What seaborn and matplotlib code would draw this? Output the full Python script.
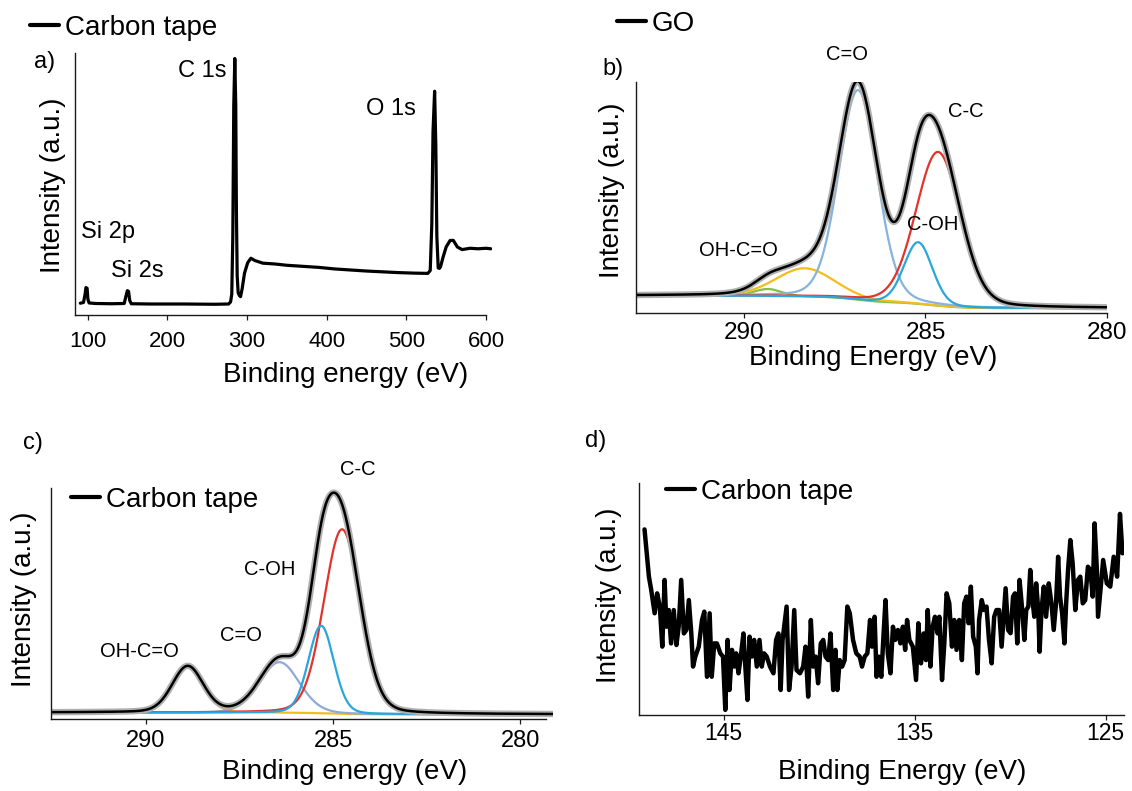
import numpy as np
import pandas as pd
import matplotlib
matplotlib.use("Agg")
import matplotlib.pyplot as plt
from matplotlib.lines import Line2D
import seaborn as sns

W, H = 1132, 791

# ---------------- (a) survey scan of the carbon tape ----------------
survey_ev = [91, 95, 97, 98, 99.5, 100.5, 102, 110, 130, 146,
             148.5, 150, 151.5, 153, 155, 180, 220, 260, 277, 279.5,
             281, 282.3, 283.5, 284.8, 286.0, 286.8, 287.8, 289, 290.5, 292,
             294, 297, 301, 305, 310, 320, 335, 350, 370, 390,
             410, 430, 450, 470, 490, 510, 527, 530, 532, 533.5,
             535.5, 537, 538.3, 540, 541.5, 543, 546, 550, 555, 559,
             564, 570, 580, 590, 600, 606]
survey_int = [4.5, 4.8, 8.0, 10.5, 10.2, 6.0, 4.6, 4.4, 4.3, 4.4,
              7.5, 9.3, 9.0, 5.5, 4.3, 4.2, 4.2, 4.1, 4.2, 5.0,
              8.0, 30, 80, 98, 80, 40, 15, 8.5, 7.5, 7.0,
              10, 16, 20, 21.7, 20.8, 19.8, 19.5, 19.0, 18.6, 18.2,
              17.6, 17.2, 16.8, 16.5, 16.2, 16.0, 15.9, 17, 35, 70,
              85.5, 65, 30, 18, 17.8, 18.5, 22, 26, 28.5, 28.5,
              26, 25, 25.5, 25.3, 25.5, 25.3]
survey_ticks = [100, 200, 300, 400, 500, 600]

# ---------------- (b) GO, C 1s peak fit ----------------
go_bands = ["C-C", "C-OH", "C=O", "OH-C=O", "shake-up"]
go_centre = [284.65, 285.20, 286.86, 288.33, 289.35]
go_height = [66.4, 26.6, 90.5, 12.2, 3.0]
go_fwhm = [1.45, 0.92, 1.25, 1.90, 0.90]
go_bg_ends = [2.2, 7.6]          # background at the low / high energy end
go_ticks = [290, 285, 280]

# ---------------- (c) carbon tape, C 1s peak fit ----------------
tape_bands = ["C-C", "C-OH", "C=O", "OH-C=O"]
tape_centre = [284.76, 285.32, 286.43, 288.88]
tape_height = [80.0, 38.0, 22.0, 19.8]
tape_fwhm = [1.15, 0.80, 1.25, 0.97]
tape_bg_ends = [2.0, 2.8]
tape_ticks = [290, 285, 280]

# ---------------- (d) carbon tape, Si 2p region ----------------
si_ev = [149.15, 148.92, 148.80, 148.62, 148.49, 148.35, 148.22, 148.10, 148.00, 147.88,
         147.76, 147.62, 147.48, 147.36, 147.23, 147.09, 146.96, 146.83, 146.70, 146.61,
         146.49, 146.31, 146.14, 146.02, 145.88, 145.74, 145.63, 145.50, 145.36, 145.18,
         145.04, 144.92, 144.80, 144.70, 144.57, 144.45, 144.35, 144.23, 144.11, 143.97,
         143.86, 143.76, 143.65, 143.53, 143.41, 143.27, 143.13, 143.01, 142.89, 142.75,
         142.58, 142.40, 142.26, 142.14, 142.02, 141.92,
         141.71, 141.58, 141.45, 141.31, 141.19, 141.01, 140.84, 140.72, 140.58, 140.44,
         140.32, 140.19, 140.06, 139.92, 139.79, 139.67, 139.53, 139.41, 139.27, 139.15,
         139.05, 138.93, 138.80, 138.67, 138.53, 138.40, 138.23, 138.06, 137.88, 137.76,
         137.62, 137.48, 137.34, 137.24, 137.10, 137.00, 136.89, 136.75, 136.63, 136.53,
         136.41, 136.27, 136.14, 136.02, 135.88, 135.75, 135.62, 135.50, 135.40, 135.28,
         135.10, 134.93, 134.81, 134.67, 134.53, 134.41, 134.32, 134.18, 134.06, 133.94,
         133.80,
         133.71, 133.57, 133.45, 133.33, 133.19, 133.05, 132.93, 132.81, 132.67, 132.53,
         132.41, 132.29, 132.18, 132.06, 131.94, 131.80, 131.71, 131.63, 131.49, 131.37,
         131.24, 131.11, 130.97, 130.84, 130.72, 130.58, 130.45, 130.32, 130.24, 130.11,
         129.98, 129.85, 129.75, 129.63, 129.51, 129.37, 129.26, 129.16, 129.05, 128.95,
         128.85, 128.74, 128.64, 128.53, 128.46, 128.36, 128.24, 128.12, 127.98, 127.84,
         127.72, 127.60, 127.49, 127.39, 127.28, 127.16, 127.07, 126.97, 126.85, 126.73,
         126.59, 126.45, 126.33, 126.20, 126.07, 125.93, 125.80, 125.68, 125.58, 125.46,
         125.40,
         125.13, 124.94, 124.76, 124.58, 124.40, 124.25, 124.12]
si_int = [80.1, 59.7, 54.0, 43.9, 52.5, 46.8, 29.5, 58.3, 38.1, 45.3,
          30.9, 45.3, 30.2, 38.1, 58.3, 35.2, 36.7, 49.6, 35.2, 20.9,
          25.2, 29.5, 41.0, 44.6, 16.5, 43.9, 16.5, 30.9, 30.9, 26.6,
          25.2, 2.2, 32.4, 10.8, 28.1, 20.9, 26.6, 18.0, 25.2, 35.2,
          19.4, 6.5, 33.8, 25.2, 32.4, 20.9, 32.4, 20.9, 26.6, 25.2,
          20.9, 18.0, 32.4, 35.2, 10.8, 32.4,
          46.8, 10.8, 20.9, 45.3, 19.4, 18.0, 20.9, 29.5, 7.9, 41.0,
          20.9, 25.2, 13.7, 30.9, 32.4, 25.2, 23.7, 35.2, 10.8, 28.1,
          10.8, 23.7, 20.9, 23.7, 46.8, 43.9, 32.4, 26.6, 25.2, 20.9,
          25.2, 26.6, 41.0, 29.5, 42.4, 16.5, 25.2, 16.5, 35.2, 49.6,
          26.6, 18.0, 38.1, 32.4, 36.7, 30.9, 38.1, 28.1, 41.0, 32.4,
          29.5, 15.1, 39.6, 22.3, 35.2, 23.7, 45.3, 20.9, 38.1, 42.4,
          35.2,
          42.4, 15.1, 30.9, 52.5, 48.2, 29.5, 41.0, 28.1, 41.0, 23.7,
          48.2, 51.1, 39.6, 55.4, 33.8, 29.5, 18.0, 41.0, 49.6, 45.3,
          46.8, 32.4, 22.3, 42.4, 45.3, 45.3, 29.5, 45.3, 54.7, 36.7,
          35.3, 51.1, 52.5, 30.9, 58.3, 45.3, 32.4, 45.3, 46.8, 62.6,
          51.1, 42.4, 56.8, 45.3, 27.3, 45.3, 55.4, 42.4, 56.8, 48.2,
          36.7, 48.2, 68.3, 51.1, 43.9, 30.9, 48.2, 62.6, 75.5, 65.5,
          45.3, 58.3, 59.7, 48.2, 49.6, 64.0, 62.6, 51.1, 82.7, 62.6,
          42.4,
          66.9, 56.8, 55.4, 68.3, 59.7, 86.8, 69.8]
si_ticks = [145, 135, 125]

# ---------------- helpers ----------------
def band(x, centre, height, fwhm, eta=0.15):
    """Gaussian-Lorentzian line shape used for the C 1s components."""
    d = (x - centre) / fwhm
    return height * ((1 - eta) * np.exp(-4 * np.log(2) * d ** 2) + eta / (1 + 4 * d ** 2))


def shirley(x, signal, ends):
    """Shirley-type background rising with the integrated peak area (x ascending)."""
    area = np.concatenate([[0.0], np.cumsum(0.5 * (signal[1:] + signal[:-1]) * np.diff(x))])
    return ends[0] + (ends[1] - ends[0]) * area / area[-1]


def fit_frame(x, names, centres, heights, widths, bg_ends):
    comps = [band(x, c, h, w) for c, h, w in zip(centres, heights, widths)]
    total = np.sum(comps, axis=0)
    bg = shirley(x, total, bg_ends)
    frames = [pd.DataFrame({"energy": x, "intensity": bg + comp, "band": name})
              for name, comp in zip(names, comps)]
    return pd.concat(frames, ignore_index=True), bg + total


def box(left, top, right, bottom):
    return [left / W, 1 - bottom / H, (right - left) / W, (bottom - top) / H]


def fig_xy(x, y):
    return x / W, 1 - y / H


# ---------------- figure ----------------
sns.set_theme(style="white")
plt.rcParams["font.family"] = ["Liberation Sans", "DejaVu Sans"]
plt.rcParams["axes.linewidth"] = 1.0
plt.rcParams["text.color"] = "black"
plt.rcParams["axes.labelcolor"] = "black"
plt.rcParams["legend.labelcolor"] = "black"

fig = plt.figure(figsize=(W / 100, H / 100), dpi=100)
fig.patch.set_facecolor("white")

boxes = {
    "a": (75, 53.3, 491.6, 315),
    "b": (635.6, 81.7, 1106.6, 313.3),
    "c": (50.9, 488.3, 552.7, 719),
    "d": (638.8, 483.3, 1124, 715),
}
axes = {k: fig.add_axes(box(*v)) for k, v in boxes.items()}


def style(ax, key, ticks, tick_size, pad, xlabel, xlab_xy, ylab_xy):
    L, T, R, B = boxes[key]
    for side in ("top", "right"):
        ax.spines[side].set_visible(False)
    for side in ("left", "bottom"):
        ax.spines[side].set_color("#1a1a1a")
        ax.spines[side].set_linewidth(1.0)
    ax.set_facecolor("white")
    ax.grid(False)
    ax.set_yticks([])
    ax.set_xticks(ticks)
    ax.set_xticklabels([str(t) for t in ticks])
    ax.tick_params(axis="x", direction="out", length=3.8, width=0.9, color="#1a1a1a",
                   labelsize=tick_size, pad=pad, bottom=True, labelcolor="black")
    ax.set_xlabel(xlabel, fontsize=20, va="center", color="black")
    ax.xaxis.set_label_coords((xlab_xy[0] - L) / (R - L), (B - xlab_xy[1]) / (B - T))
    ax.set_ylabel("Intensity (a.u.)", fontsize=20, va="center", color="black")
    ax.yaxis.set_label_coords((ylab_xy[0] - L) / (R - L), (B - ylab_xy[1]) / (B - T))


def tag(ax, text, xy):
    ax.legend(handles=[Line2D([], [], color="black", lw=3.0)], labels=[text],
              loc="center left", bbox_to_anchor=fig_xy(*xy), bbox_transform=fig.transFigure,
              frameon=False, fontsize=20, handlelength=1.05, handletextpad=0.2,
              borderpad=0, borderaxespad=0, labelcolor="black")


# ----- (a) -----
ax = axes["a"]
sns.lineplot(x=survey_ev, y=survey_int, ax=ax, color="black", lw=2.3,
             estimator=None, sort=False)
ax.set_xlim(84.3, 607)
ax.set_ylim(0, 100)
ax.spines["bottom"].set_bounds(84.3, 600)
style(ax, "a", survey_ticks, 16, 8, "Binding energy (eV)", (345.5, 375), (52.5, 185))
tag(ax, "Carbon tape", (30, 28))
for label, x, y in [("C 1s", 274.5, 91.1), ("O 1s", 449.4, 76.4),
                    ("Si 2p", 92.3, 29.4), ("Si 2s", 129.1, 14.5)]:
    ax.text(x, y, label, fontsize=17, ha="right" if label == "C 1s" else "left",
            va="baseline", color="black")

# ----- (b) -----
ax = axes["b"]
x_b = np.linspace(280.0, 293.0, 1300)
df_b, env_b = fit_frame(x_b, go_bands, go_centre, go_height, go_fwhm, go_bg_ends)
pal_b = {"C-C": "#e2342b", "C-OH": "#2aa6dd", "C=O": "#86b4dc",
         "OH-C=O": "#f3bd20", "shake-up": "#84c142"}
sns.lineplot(data=df_b, x="energy", y="intensity", hue="band",
             hue_order=["shake-up", "OH-C=O", "C=O", "C-C", "C-OH"], palette=pal_b,
             lw=1.6, estimator=None, sort=False, legend=False, ax=ax)
sns.lineplot(x=x_b, y=env_b, ax=ax, color="#b0b0b0", lw=4.6, estimator=None, sort=False)
sns.lineplot(x=x_b, y=env_b, ax=ax, color="black", lw=1.8, estimator=None, sort=False)
ax.set_xlim(293.0, 280.0)
ax.set_ylim(0, 100)
style(ax, "b", go_ticks, 17.5, 2.5, "Binding Energy (eV)", (873, 358.3), (612, 190))
tag(ax, "GO", (616.6, 24))
for label, x, y, ha in [("C=O", 287.17, 109.4, "center"), ("C-C", 284.38, 84.9, "left"),
                        ("C-OH", 285.51, 36.0, "left"), ("OH-C=O", 291.25, 24.7, "left")]:
    ax.text(x, y, label, fontsize=14.5, ha=ha, va="baseline", color="black")

# ----- (c) -----
ax = axes["c"]
x_c = np.linspace(279.14, 292.53, 1300)
df_c, env_c = fit_frame(x_c, tape_bands, tape_centre, tape_height, tape_fwhm, tape_bg_ends)
pal_c = {"C-C": "#e2342b", "C-OH": "#2aa6dd", "C=O": "#8eaadb", "OH-C=O": "#f3bd20"}
sns.lineplot(data=df_c, x="energy", y="intensity", hue="band",
             hue_order=["OH-C=O", "C=O", "C-C", "C-OH"], palette=pal_c,
             lw=1.6, estimator=None, sort=False, legend=False, ax=ax)
sns.lineplot(x=x_c, y=env_c, ax=ax, color="#b0b0b0", lw=4.6, estimator=None, sort=False)
sns.lineplot(x=x_c, y=env_c, ax=ax, color="black", lw=1.8, estimator=None, sort=False)
ax.set_xlim(292.53, 279.14)
ax.set_ylim(0, 100)
ax.spines["bottom"].set_bounds(292.53, 279.32)
style(ax, "c", tape_ticks, 17, 4, "Binding energy (eV)", (344.5, 771.7), (24.4, 599))
tag(ax, "Carbon tape", (71, 500))
for label, x, y in [("C-C", 284.81, 105.8), ("C-OH", 287.37, 62.4),
                    ("C=O", 288.03, 33.9), ("OH-C=O", 291.22, 26.9)]:
    ax.text(x, y, label, fontsize=14.5, ha="left", va="baseline", color="black")

# ----- (d) -----
ax = axes["d"]
sns.lineplot(x=si_ev, y=si_int, ax=ax, color="black", lw=3.2, estimator=None, sort=False)
ax.set_xlim(149.45, 124.04)
ax.set_ylim(0, 100)
style(ax, "d", si_ticks, 16.5, 1.5, "Binding Energy (eV)", (902, 771.7), (609, 595))
tag(ax, "Carbon tape", (666, 491.7))

# panel letters
for letter, xy in [("a)", (44.6, 61.7)), ("b)", (613, 69)), ("c)", (32.7, 443)), ("d)", (596, 441))]:
    fig.text(*fig_xy(*xy), letter, fontsize=17, ha="center", va="center", color="black")

fig.savefig("out.png", dpi=100, facecolor="white")
